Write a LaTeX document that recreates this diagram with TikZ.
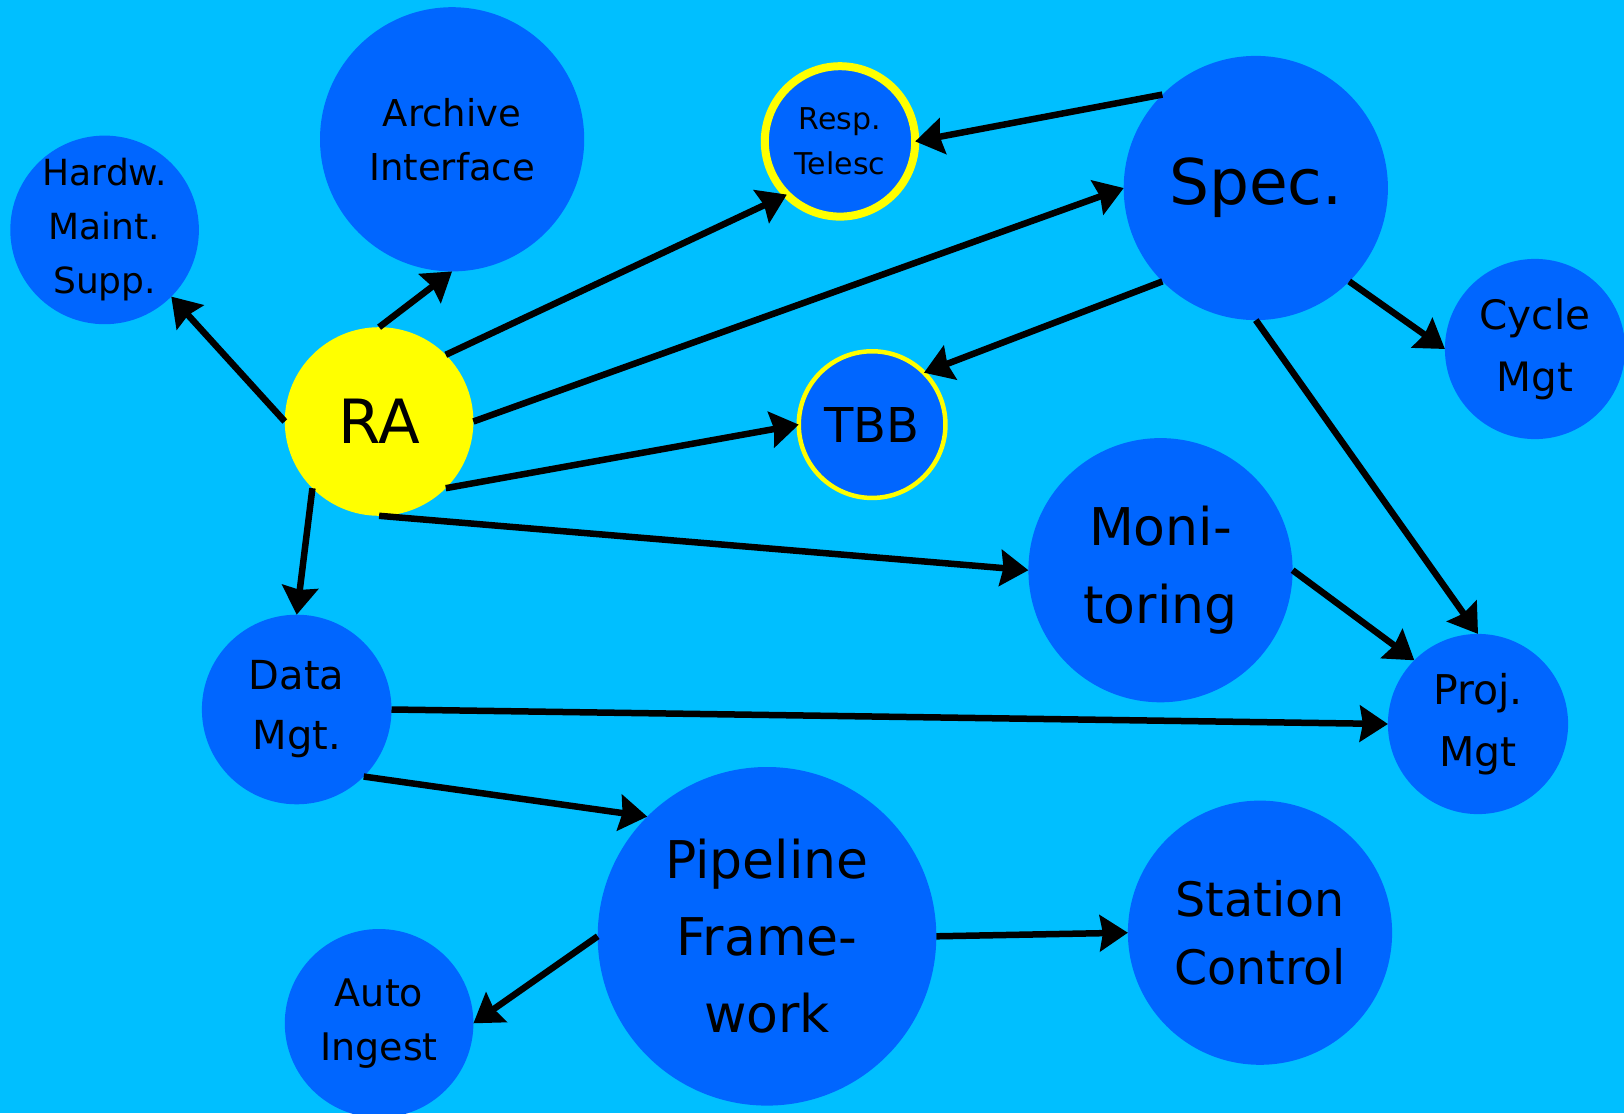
\documentclass[tikz,border=0pt]{standalone}
\usepackage{fontspec}
\setmainfont{DejaVu Sans}
\usetikzlibrary{arrows.meta}
\definecolor{bgsky}{RGB}{0,191,255}
\definecolor{bubblue}{RGB}{0,102,255}
\definecolor{ringyellow}{RGB}{255,255,0}
\newcommand\fsz[2]{\fontsize{#1}{#2}\selectfont}
\begin{document}
\begin{tikzpicture}[x=1pt,y=-1pt,
  bub/.style={circle, fill=bubblue, inner sep=0pt, outer sep=0pt, align=center, text=black},
  ybub/.style={circle, fill=ringyellow, inner sep=0pt, outer sep=0pt, align=center, text=black},
  arr/.style={line width=6.5pt, -{Stealth[length=28pt,width=36pt,inset=3pt]}}]
\fill[bgsky] (0,0) rectangle (1624,1113);
\useasboundingbox (0,0) rectangle (1624,1113);

\node[bub, minimum size=188.6pt, font=\fsz{36}{54}] (hw) at (104.6,229.9) {Hardw.\\Maint.\\Supp.};
\node[bub, minimum size=264.2pt, font=\fsz{37}{54}] (ar) at (452.1,139.3) {Archive\\Interface};
\node[bub, draw=ringyellow, line width=8pt, minimum size=150.4pt, font=\fsz{30}{45.5}] (rt) at (840.0,141.4) {Resp.\\Telesc};
\node[bub, minimum size=264.2pt, font=\fsz{63}{70}] (sp) at (1255.8,188.0) {Spec.};
\node[bub, minimum size=180.2pt, font=\fsz{40.5}{62}] (cy) at (1535.0,349.0) {Cycle\\Mgt};
\node[ybub, minimum size=188.6pt, font=\fsz{61}{70}] (ra) at (379.1,421.5) {RA};
\node[bub, draw=ringyellow, line width=4.5pt, minimum size=146.7pt, font=\fsz{48}{56}] (tbb) at (872.1,424.6) {TBB};
\node[bub, minimum size=264.2pt, font=\fsz{52}{78}] (mon) at (1160.5,570.2) {Moni-\\toring};
\node[bub, minimum size=189.6pt, font=\fsz{40}{60}] (dm) at (296.7,709.5) {Data\\Mgt.};
\node[bub, minimum size=180.2pt, font=\fsz{41}{62}] (pm) at (1478.0,724.0) {Proj.\\Mgt};
\node[bub, minimum size=338.6pt, font=\fsz{52}{77}] (pf) at (767.0,936.3) {Pipeline\\Frame-\\work};
\node[bub, minimum size=264.2pt, font=\fsz{47.5}{68}] (sc) at (1260.0,932.7) {Station\\Control};
\node[bub, minimum size=188.6pt, font=\fsz{38}{54}] (ai) at (379.1,1023.3) {Auto\\Ingest};

\draw[arr] (ra.west) -- (hw.south east);
\draw[arr] (ra.north) -- (ar.south);
\draw[arr] (ra.north east) -- (rt.south west);
\draw[arr] (ra.east) -- (sp.west);
\draw[arr] (ra.south east) -- (tbb.west);
\draw[arr] (ra.south) -- (mon.west);
\draw[arr] (ra.south west) -- (dm.north);
\draw[arr] (sp.north west) -- (rt.east);
\draw[arr] (sp.south west) -- (tbb.north east);
\draw[arr] (sp.south east) -- (cy.west);
\draw[arr] (sp.south) -- (pm.north);
\draw[arr] (mon.east) -- (pm.north west);
\draw[arr] (dm.east) -- (pm.west);
\draw[arr] (dm.south east) -- (pf.north west);
\draw[arr] (pf.west) -- (ai.east);
\draw[arr] (pf.east) -- (sc.west);
\end{tikzpicture}
\end{document}
